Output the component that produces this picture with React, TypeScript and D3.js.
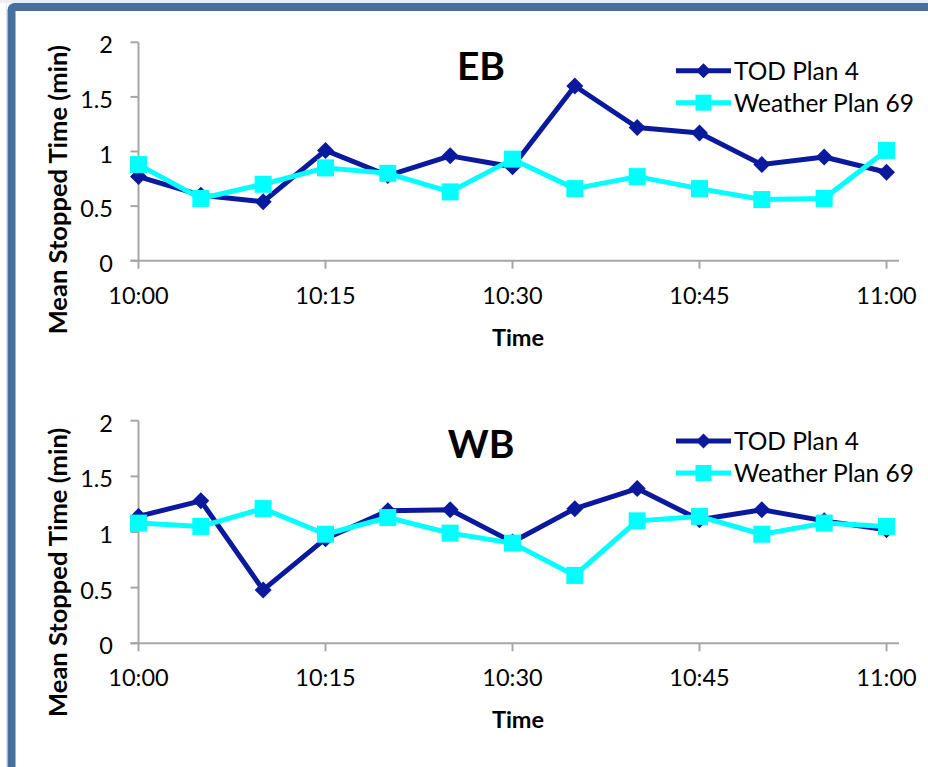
import React from "react";
import * as d3 from "d3";

const timeLabels = ["10:00","10:05","10:10","10:15","10:20","10:25","10:30","10:35","10:40","10:45","10:50","10:55","11:00"];
const ebTod = [0.77, 0.60, 0.54, 1.01, 0.78, 0.96, 0.86, 1.60, 1.22, 1.17, 0.88, 0.95, 0.81];
const ebWeather = [0.88, 0.57, 0.70, 0.85, 0.80, 0.63, 0.93, 0.66, 0.77, 0.66, 0.56, 0.57, 1.01];
const wbTod = [1.14, 1.28, 0.48, 0.94, 1.19, 1.20, 0.91, 1.21, 1.39, 1.11, 1.20, 1.10, 1.02];
const wbWeather = [1.08, 1.05, 1.21, 0.98, 1.13, 0.99, 0.90, 0.61, 1.10, 1.14, 0.98, 1.08, 1.05];
const yTicks = [0, 0.5, 1, 1.5, 2];
const seriesNames = ["TOD Plan 4", "Weather Plan 69"];
const yTitle = "Mean Stopped Time (min)";
const xTitle = "Time";

const DARK = "#0b1a9c";
const CYAN = "#00ffff";
const AXIS = "#a6a6a6";
const FONT = "Lato, Carlito, 'Open Sans', sans-serif";

const parse = d3.timeParse("%H:%M");
const times = timeLabels.map((t) => parse(t) as Date);
const t0 = times[0];
const t1 = times[times.length - 1];
const x = d3.scaleTime().domain([t0, t1]).range([138.5, 886.5]);
const xTickVals = x.ticks(d3.timeMinute.every(15) as any);
const fmt = d3.timeFormat("%H:%M");

function diamond(cx: number, cy: number, r: number) {
  return `M${cx},${cy - r}L${cx + r},${cy}L${cx},${cy + r}L${cx - r},${cy}Z`;
}

type PanelProps = {
  title: string;
  tod: number[];
  weather: number[];
  y0: number;
  y2: number;
  titleY: number;
  legendY: number;
};

function Panel({ title, tod, weather, y0, y2, titleY, legendY }: PanelProps) {
  const y = d3.scaleLinear().domain([0, 2]).range([y0, y2]);
  const line = d3
    .line<number>()
    .x((_, i) => x(times[i]))
    .y((d) => y(d));
  const axisStart = x(t0) - 8;
  const axisEnd = x(d3.timeMinute.offset(t1, 1));
  const legX1 = 676;
  const legX2 = 731;
  const legMid = (legX1 + legX2) / 2;
  return (
    <g>
      <line x1={x(t0)} x2={x(t0)} y1={y(2)} y2={y(0)} stroke={AXIS} strokeWidth={2} />
      <line x1={axisStart} x2={axisEnd} y1={y(0)} y2={y(0)} stroke={AXIS} strokeWidth={2} />
      {yTicks.map((v) => (
        <g key={"yt" + v}>
          <line x1={x(t0) - 8} x2={x(t0)} y1={y(v)} y2={y(v)} stroke={AXIS} strokeWidth={2} />
          <text x={113} y={y(v) + 11} textAnchor="end" fontSize={23.5} fontFamily={FONT} fill="#000">
            {String(v)}
          </text>
        </g>
      ))}
      {xTickVals.map((d) => (
        <g key={"xt" + d.getTime()}>
          <line x1={x(d)} x2={x(d)} y1={y(0)} y2={y(0) + 8} stroke={AXIS} strokeWidth={2} />
          <text x={x(d)} y={y(0) + 43} textAnchor="middle" fontSize={23.5} fontFamily={FONT} fill="#000">
            {fmt(d)}
          </text>
        </g>
      ))}
      <text x={518} y={y(0) + 85} textAnchor="middle" fontSize={23.5} fontWeight="bold" fontFamily={FONT} fill="#000">
        {xTitle}
      </text>
      <text
        transform={`translate(67,${y(0) - 71}) rotate(-90)`}
        textAnchor="middle"
        fontSize={25.5}
        fontWeight="bold"
        fontFamily={FONT}
        fill="#000"
      >
        {yTitle}
      </text>
      <text x={481} y={titleY} textAnchor="middle" fontSize={39} fontWeight="bold" fontFamily={FONT} fill="#000">
        {title}
      </text>

      <path d={line(tod) || ""} fill="none" stroke={DARK} strokeWidth={5} strokeLinejoin="round" />
      {tod.map((v, i) => (
        <path key={"d" + i} d={diamond(x(times[i]), y(v), 8.5)} fill={DARK} />
      ))}
      <path d={line(weather) || ""} fill="none" stroke={CYAN} strokeWidth={5} strokeLinejoin="round" />
      {weather.map((v, i) => (
        <rect key={"s" + i} x={x(times[i]) - 8.5} y={y(v) - 8.5} width={17} height={17} fill={CYAN} />
      ))}

      <line x1={legX1} x2={legX2} y1={legendY} y2={legendY} stroke={DARK} strokeWidth={5} />
      <path d={diamond(legMid, legendY, 7.5)} fill={DARK} />
      <text x={734} y={legendY + 9} fontSize={24.5} fontFamily={FONT} fill="#000">
        {seriesNames[0]}
      </text>
      <line x1={legX1} x2={legX2} y1={legendY + 32} y2={legendY + 32} stroke={CYAN} strokeWidth={5} />
      <rect x={legMid - 8} y={legendY + 32 - 8} width={16} height={16} fill={CYAN} />
      <text x={734} y={legendY + 32 + 9} fontSize={24.5} fontFamily={FONT} fill="#000">
        {seriesNames[1]}
      </text>
    </g>
  );
}

export default function App() {
  return (
    <div style={{ position: "absolute", left: 0, top: 0 }}>
      <svg width={928} height={767} style={{ display: "block" }}>
        <rect x={0} y={0} width={928} height={767} fill="#ffffff" />
        <rect x={0} y={0} width={928} height={3} fill="#eceef3" />
        <line x1={6.5} x2={6.5} y1={3} y2={767} stroke="#e4e6ea" strokeWidth={1} />
        <rect x={11.5} y={7} width={1000} height={1000} rx={3} fill="#ffffff" stroke="#46709d" strokeWidth={8} />
        <Panel title="EB" tod={ebTod} weather={ebWeather} y0={260.7} y2={42.3} titleY={80} legendY={70.7} />
        <Panel title="WB" tod={wbTod} weather={wbWeather} y0={643.3} y2={420.7} titleY={458.3} legendY={441} />
      </svg>
    </div>
  );
}
